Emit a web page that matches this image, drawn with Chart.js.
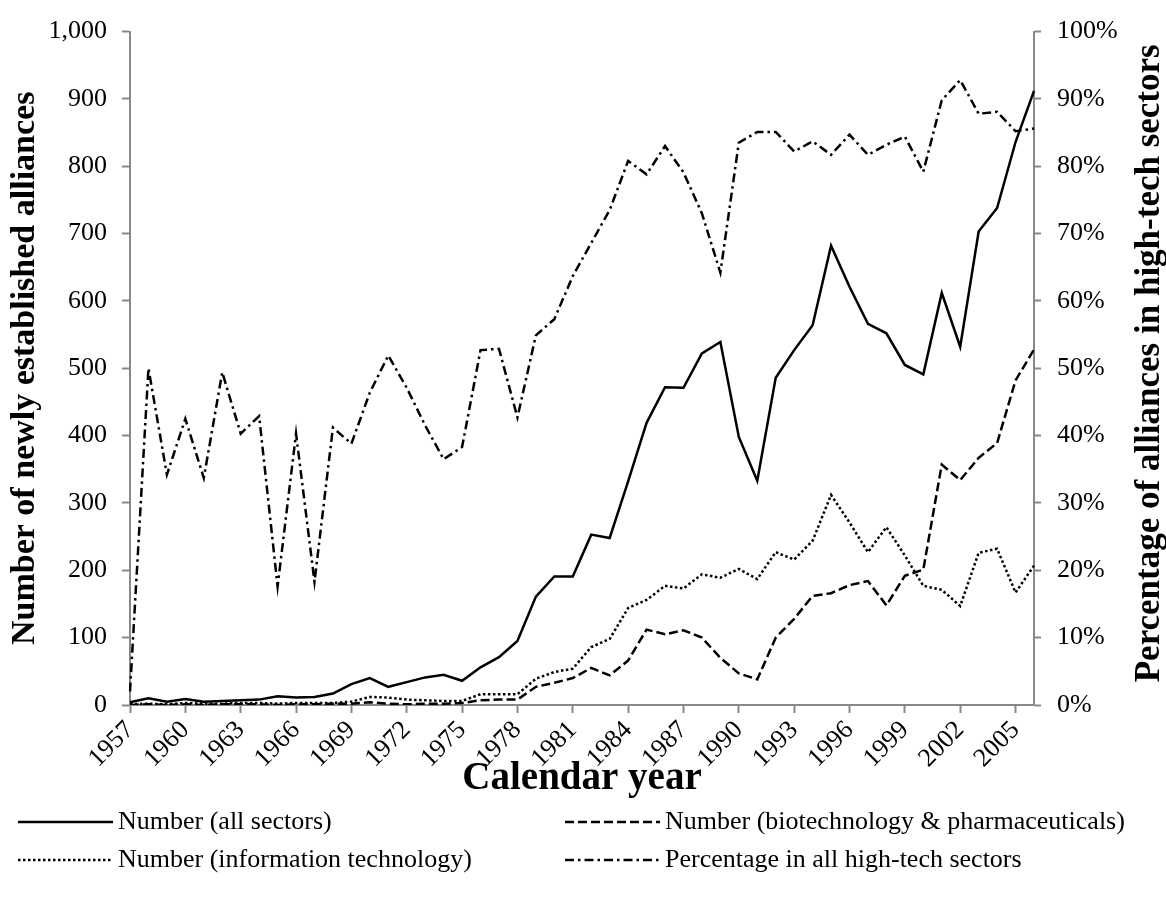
<!DOCTYPE html>
<html>
<head>
<meta charset="utf-8">
<script src="https://cdn.jsdelivr.net/npm/chart.js@4.4.1/dist/chart.umd.min.js"></script>
<style>
  html, body { margin: 0; padding: 0; background: #fff; }
  #wrap { width: 1166px; height: 909px; position: relative; }
</style>
</head>
<body>
<div id="wrap"><canvas id="alliances"></canvas></div>
<script>
const years = ['1957', '1958', '1959', '1960', '1961', '1962', '1963', '1964', '1965', '1966',
  '1967', '1968', '1969', '1970', '1971', '1972', '1973', '1974', '1975', '1976',
  '1977', '1978', '1979', '1980', '1981', '1982', '1983', '1984', '1985', '1986',
  '1987', '1988', '1989', '1990', '1991', '1992', '1993', '1994', '1995', '1996',
  '1997', '1998', '1999', '2000', '2001', '2002', '2003', '2004', '2005', '2006'];

const allSectors = [4, 10, 5, 9, 5, 6, 7, 8, 13, 11,
  12, 17, 31, 40, 27, 34, 41, 45, 36, 56,
  71, 95, 161, 191, 191, 253, 248, 332, 419, 472,
  471, 522, 539, 398, 333, 486, 527, 564, 682, 621,
  566, 552, 505, 491, 612, 532, 703, 738, 836, 912];

const biotech = [0, 1, 0, 1, 0, 1, 1, 1, 0, 1,
  1, 2, 2, 4, 2, 1, 2, 2, 3, 7,
  8, 8, 27, 33, 40, 55, 44, 66, 112, 105,
  111, 100, 70, 47, 38, 100, 128, 162, 166, 178,
  184, 148, 192, 201, 357, 334, 367, 389, 482, 528];

const infoTech = [1, 2, 1, 3, 2, 2, 3, 3, 2, 3,
  3, 3, 5, 12, 11, 8, 7, 6, 6, 16,
  16, 16, 39, 49, 54, 86, 98, 144, 156, 177,
  173, 194, 189, 202, 187, 227, 216, 244, 312, 271,
  227, 264, 222, 177, 171, 147, 226, 232, 167, 207];

const highTechPct = [2, 50, 34.2, 42.5, 33.7, 49.4, 40.3, 42.9, 17.6, 40.3,
  18.3, 41.2, 38.8, 46.4, 51.9, 47.1, 41.5, 36.5, 38.3, 52.7,
  52.9, 42.7, 54.9, 57.3, 63.7, 68.6, 73.5, 80.8, 78.8, 83.0,
  79.1, 73.0, 64.2, 83.5, 85.1, 85.1, 82.2, 83.7, 81.7, 84.7,
  81.7, 83.2, 84.4, 79.2, 89.8, 92.8, 87.8, 88.1, 85.2, 85.6];

const leftTicks = { min: 0, max: 1000, step: 100 };
const rightTicks = { min: 0, max: 100, step: 10 };

const serif = "'Liberation Serif', 'Times New Roman', serif";
const axisGrey = '#888888';
const rightTitle = 'Percentage of alliances in high-tech sectors';

// legend in two columns under the x title, plus the right title read bottom-up
const cornerLegend = {
  id: 'cornerLegend',
  afterDraw(chart) {
    const ctx = chart.ctx;
    const spots = [[18, 822], [565, 822], [18, 860], [565, 860]];
    chart.data.datasets.forEach((ds, i) => {
      const [x, y] = spots[i];
      ctx.save();
      ctx.strokeStyle = ds.borderColor;
      ctx.lineWidth = ds.borderWidth;
      ctx.setLineDash(ds.borderDash || []);
      ctx.beginPath();
      ctx.moveTo(x, y);
      ctx.lineTo(x + 95, y);
      ctx.stroke();
      ctx.setLineDash([]);
      ctx.fillStyle = '#000';
      ctx.font = '26px ' + serif;
      ctx.textBaseline = 'middle';
      ctx.fillText(ds.label, x + 100, y);
      ctx.restore();
    });

    const scale = chart.scales.y1;
    const area = chart.chartArea;
    ctx.save();
    ctx.translate(scale.right - 16, (area.top + area.bottom) / 2 - 5);
    ctx.rotate(-Math.PI / 2);
    ctx.fillStyle = '#000';
    ctx.font = 'bold 35px ' + serif;
    ctx.textAlign = 'center';
    ctx.textBaseline = 'middle';
    ctx.fillText(rightTitle, 0, 0);
    ctx.restore();
  }
};

function lineSet(label, data, dash, axis) {
  return {
    label: label,
    data: data,
    yAxisID: axis,
    borderColor: '#000',
    borderWidth: 2.5,
    borderDash: dash,
    pointRadius: 0,
    tension: 0,
    fill: false
  };
}

const ctx = document.querySelector('#alliances');
new Chart(ctx, {
  type: 'line',
  data: {
    labels: years,
    datasets: [
      lineSet('Number (all sectors)', allSectors, [], 'y'),
      lineSet('Number (biotechnology & pharmaceuticals)', biotech, [9, 4], 'y'),
      lineSet('Number (information technology)', infoTech, [2.5, 2.5], 'y'),
      lineSet('Percentage in all high-tech sectors', highTechPct, [9, 4, 2.5, 4], 'y1')
    ]
  },
  options: {
    responsive: true,
    maintainAspectRatio: false,
    animation: false,
    layout: { padding: { top: 22, bottom: 111, left: 0, right: 0 } },
    plugins: {
      legend: { display: false },
      tooltip: { enabled: false }
    },
    scales: {
      x: {
        type: 'category',
        grid: { drawOnChartArea: false, tickLength: 8, tickColor: axisGrey, tickWidth: 2 },
        border: { color: axisGrey, width: 2 },
        ticks: {
          autoSkip: false, minRotation: 45, maxRotation: 45, padding: 2,
          color: '#000', font: { family: serif, size: 26 }
        },
        afterBuildTicks(axis) {
          axis.ticks = axis.ticks.filter((t, i) => i % 3 === 0);
        },
        afterFit(axis) { axis.height = 93; },
        title: {
          display: true, text: 'Calendar year', color: '#000', padding: 0,
          font: { family: serif, size: 39, weight: 'bold', lineHeight: 1 }
        }
      },
      y: {
        position: 'left',
        min: leftTicks.min,
        max: leftTicks.max,
        grid: { drawOnChartArea: false, tickLength: 8, tickColor: axisGrey, tickWidth: 2 },
        border: { color: axisGrey, width: 2 },
        ticks: {
          stepSize: leftTicks.step, padding: 15, color: '#000',
          font: { family: serif, size: 26 },
          callback: v => v.toLocaleString('en-US')
        },
        afterFit(axis) { axis.width = 130; },
        title: {
          display: true, text: 'Number of newly established alliances', color: '#000',
          padding: { top: 8, bottom: 0 },
          font: { family: serif, size: 34, weight: 'bold', lineHeight: 1 }
        }
      },
      y1: {
        position: 'right',
        min: rightTicks.min,
        max: rightTicks.max,
        grid: { drawOnChartArea: false, tickLength: 7, tickColor: axisGrey, tickWidth: 2 },
        border: { color: axisGrey, width: 2 },
        ticks: {
          stepSize: rightTicks.step, padding: 16, color: '#000',
          font: { family: serif, size: 26 },
          callback: v => v + '%'
        },
        afterFit(axis) { axis.width = 132; }
      }
    }
  },
  plugins: [cornerLegend]
});
</script>
</body>
</html>
